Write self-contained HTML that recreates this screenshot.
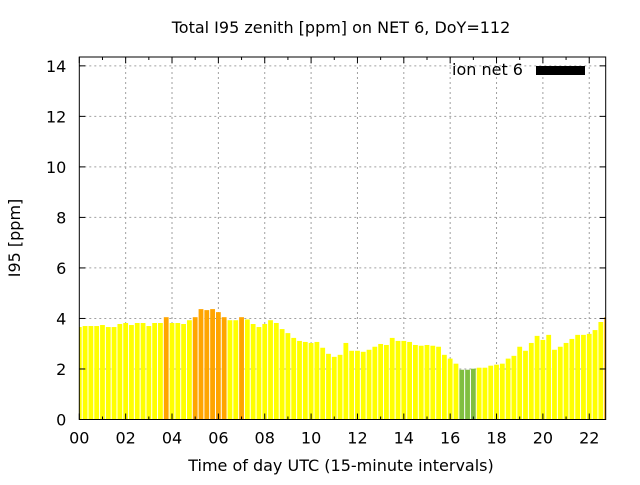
<!DOCTYPE html>
<html><head><meta charset="utf-8"><style>
body{margin:0;background:#fff}
svg text{font-family:"DejaVu Sans","Liberation Sans",sans-serif;fill:#000}
</style></head><body>
<svg id="chart" width="640" height="480" viewBox="0 0 640 480">
<text x="341" y="33" font-size="16" text-anchor="middle">Total I95 zenith [ppm] on NET 6, DoY=112</text>
<g id="grid"></g>
<g id="bars"></g>
<g id="axes"></g>
<text x="341" y="471" font-size="16" text-anchor="middle">Time of day UTC (15-minute intervals)</text>
<text transform="translate(20,238) rotate(-90)" font-size="16" text-anchor="middle">I95 [ppm]</text>
<g>
<text x="452" y="75" font-size="16">ion net 6</text>
<rect x="536" y="66" width="49" height="9" fill="#000"></rect>
</g>
</svg>
<script>
const values=[3.66,3.70,3.70,3.70,3.74,3.66,3.66,3.78,3.82,3.74,3.82,3.82,3.70,3.82,3.82,4.05,3.82,3.82,3.78,3.93,4.05,4.37,4.33,4.37,4.25,4.05,3.93,3.93,4.05,3.96,3.78,3.66,3.78,3.93,3.82,3.58,3.42,3.23,3.11,3.07,3.03,3.07,2.84,2.60,2.48,2.56,3.03,2.72,2.72,2.68,2.76,2.88,2.99,2.95,3.23,3.11,3.11,3.07,2.95,2.92,2.95,2.92,2.88,2.56,2.41,2.21,1.97,1.97,2.01,2.05,2.05,2.13,2.17,2.21,2.41,2.52,2.88,2.72,3.03,3.31,3.15,3.35,2.76,2.88,3.03,3.19,3.35,3.35,3.39,3.54,3.86,4.05];
const levels=["y","y","y","y","y","y","y","y","y","y","y","y","y","y","y","o","y","y","y","y","o","o","o","o","o","o","y","y","o","y","y","y","y","y","y","y","y","y","y","y","y","y","y","y","y","y","y","y","y","y","y","y","y","y","y","y","y","y","y","y","y","y","y","y","y","y","g","g","g","y","y","y","y","y","y","y","y","y","y","y","y","y","y","y","y","y","y","y","y","y","y","o"];
const yTicks=[0,2,4,6,8,10,12,14];
const xTickLabels=["00","02","04","06","08","10","12","14","16","18","20","22"];
const L=79.3,R=605.7,T=57,B=419.5;
const xMax=22.71, yMax=14.35;
const colors={y:"#ffff00",o:"#ffa500",g:"#80bf40"};
const xs=h=>L+h/xMax*(R-L);
const ys=v=>B-v/yMax*(B-T);
const NS="http://www.w3.org/2000/svg";
function mk(tag,attrs,parent){const e=document.createElementNS(NS,tag);for(const k in attrs)e.setAttribute(k,attrs[k]);parent.appendChild(e);return e;}
const grid=document.getElementById('grid'),bars=document.getElementById('bars'),axes=document.getElementById('axes');
yTicks.forEach(v=>{
  const y=ys(v);
  if(v>0){const l=mk('line',{x1:L,x2:R,y1:y,y2:y,stroke:'#a0a0a0','stroke-dasharray':'2,3','stroke-width':1},grid);
  
  }
  const t=mk('text',{x:L-13,y:y+6,'font-size':16,'text-anchor':'end'},axes);t.textContent=v;
  
  
  mk('line',{x1:L,x2:L+6,y1:y,y2:y,stroke:'#000'},axes);
  mk('line',{x1:R,x2:R-6,y1:y,y2:y,stroke:'#000'},axes);
});
xTickLabels.forEach((s,i)=>{
  const x=xs(i*2);
  if(i>0){const l=mk('line',{x1:x,x2:x,y1:T,y2:B,stroke:'#a0a0a0','stroke-dasharray':'2,3','stroke-width':1},grid);
  
  }
  const t=mk('text',{x:x,y:B+24,'font-size':16,'text-anchor':'middle'},axes);t.textContent=s;
  
  
});
for(let h=0;h<=22;h++){const x=xs(h);const len=h%2?3:6;
  mk('line',{x1:x,x2:x,y1:B,y2:B-len,stroke:'#000'},axes);
  mk('line',{x1:x,x2:x,y1:T,y2:T+len,stroke:'#000'},axes);}
const clip=mk('clipPath',{id:'pc'},bars);mk('rect',{x:L,y:T,width:R-L,height:B-T},clip);
const bg=mk('g',{'clip-path':'url(#pc)'},bars);
const bw=4.8;
values.forEach((v,i)=>{
  const x=xs(i*0.25);
  const r=mk('rect',{x:x-bw/2,y:ys(v),width:bw,height:B-ys(v),fill:colors[levels[i]]},bg);
  
  
});
const fr=mk('rect',{x:L,y:T,width:R-L,height:B-T,fill:'none',stroke:'#000','stroke-width':1},axes);


</script>
</body></html>
